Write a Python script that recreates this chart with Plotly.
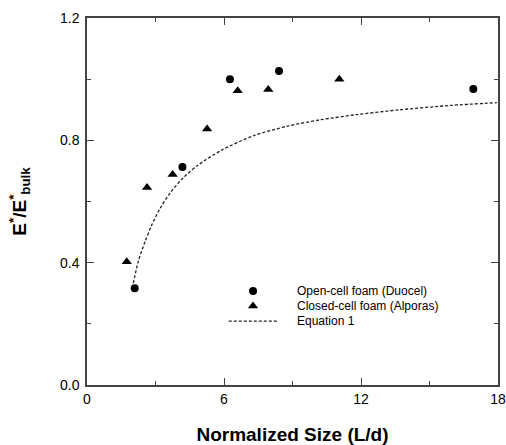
import plotly.graph_objects as go

# Open-cell foam (Duocel)
open_x = [2.09, 4.18, 6.26, 8.41, 16.92]
open_y = [0.316, 0.713, 1.000, 1.027, 0.968]

# Closed-cell foam (Alporas)
closed_x = [1.74, 2.63, 3.75, 5.26, 6.60, 7.94, 11.05]
closed_y = [0.403, 0.646, 0.688, 0.837, 0.962, 0.966, 1.000]

# Equation 1 curve
eq_x = [2.03, 2.25, 2.54, 2.83, 3.20, 3.64, 4.22, 4.88, 5.90, 7.29, 8.75, 10.21, 11.81, 13.71, 15.90, 17.95]
eq_y = [0.333, 0.405, 0.468, 0.522, 0.577, 0.628, 0.678, 0.720, 0.768, 0.815, 0.846, 0.867, 0.884, 0.900, 0.914, 0.923]

x_ticks = [0, 6, 12, 18]
y_ticks = [0.0, 0.4, 0.8, 1.2]

legend_labels = ["Open-cell foam (Duocel)", "Closed-cell foam (Alporas)", "Equation 1"]

FONT = "Liberation Sans, Arial, sans-serif"

fig = go.Figure()
fig.add_trace(go.Scatter(x=open_x, y=open_y, mode="markers", name=legend_labels[0], showlegend=False,
                         marker=dict(symbol="circle", size=8, color="black")))
fig.add_trace(go.Scatter(x=closed_x, y=closed_y, mode="markers", name=legend_labels[1], showlegend=False,
                         marker=dict(symbol="triangle-up", size=9, color="black")))
fig.add_trace(go.Scatter(x=eq_x, y=eq_y, mode="lines", name=legend_labels[2], showlegend=False,
                         line=dict(color="#222", width=1.3, dash="3px,2px", shape="spline", smoothing=0.8)))

# Hand-drawn legend (overlay axes spanning 0..1)
leg_sym_x = 0.404
leg_rows = [0.256, 0.215, 0.174]
leg_text_x = 0.505
fig.add_trace(go.Scatter(x=[leg_sym_x], y=[leg_rows[0]], xaxis="x2", yaxis="y2", mode="markers",
                         showlegend=False, hoverinfo="skip",
                         marker=dict(symbol="circle", size=8, color="black")))
fig.add_trace(go.Scatter(x=[leg_sym_x], y=[leg_rows[1]], xaxis="x2", yaxis="y2", mode="markers",
                         showlegend=False, hoverinfo="skip",
                         marker=dict(symbol="triangle-up", size=9, color="black")))
fig.add_shape(type="line", xref="paper", yref="paper", x0=0.345, x1=0.465, y0=leg_rows[2], y1=leg_rows[2],
              line=dict(color="#222", width=1.3, dash="3px,2px"))
for lab, yy in zip(legend_labels, leg_rows):
    fig.add_annotation(text=lab, xref="paper", yref="paper", x=leg_text_x, y=yy, xanchor="left",
                       yanchor="middle", showarrow=False, font=dict(family=FONT, size=12, color="black"))

axis_common = dict(
    showline=True, linecolor="#444", linewidth=1.5, mirror="allticks",
    ticks="inside", ticklen=7, tickwidth=1, tickcolor="#444",
    showgrid=False, zeroline=False, automargin=False,
    tickfont=dict(family=FONT, size=14, color="black"),
)

xaxis = dict(range=[0, 18], tickvals=x_ticks, ticktext=[str(v) for v in x_ticks],
             minor=dict(tickvals=[3, 9, 15], ticks="inside", ticklen=4, tickcolor="#444"),
             title=dict(text="<b>Normalized Size (L/d)</b>", font=dict(family=FONT, size=19, color="black"), standoff=26),
             **axis_common)
yaxis = dict(range=[0, 1.2], tickvals=y_ticks, ticktext=[f"{v:.1f}" for v in y_ticks],
             minor=dict(tickvals=[0.2, 0.6, 1.0], ticks="inside", ticklen=4, tickcolor="#444"),
             title=dict(text="<b>E<sup>*</sup>/E<sup>*</sup><sub>bulk</sub></b>", font=dict(family=FONT, size=19, color="black"), standoff=28),
             ticklabelstandoff=3,
             **axis_common)

fig.update_layout(
    template="none",
    width=506, height=445,
    margin=dict(l=87, r=8, t=18, b=60),
    paper_bgcolor="white", plot_bgcolor="white",
    showlegend=False,
    xaxis=xaxis, yaxis=yaxis,
    xaxis2=dict(overlaying="x", range=[0, 1], visible=False, fixedrange=True, showgrid=False, zeroline=False),
    yaxis2=dict(overlaying="y", range=[0, 1], visible=False, fixedrange=True, showgrid=False, zeroline=False),
    font=dict(family=FONT),
)

fig.write_html("out.html")
